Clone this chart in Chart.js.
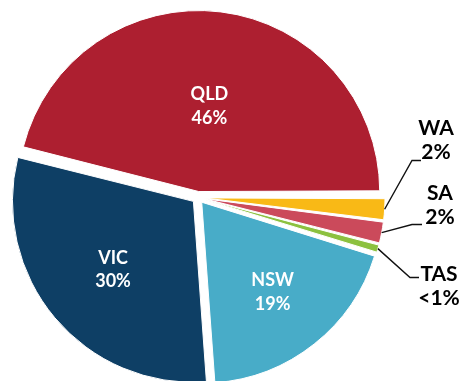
<!DOCTYPE html>
<html>
<head>
<meta charset="utf-8">
<script src="https://cdn.jsdelivr.net/npm/chart.js@4.4.1/dist/chart.umd.min.js"></script>
<style>
  html, body { margin: 0; padding: 0; background: #fff; }
  #wrap { width: 460px; height: 381px; position: relative; }
</style>
</head>
<body>
<div id="wrap"><canvas id="stateChart"></canvas></div>
<script>
// slices run clockwise from 3 o'clock
const states = ['WA', 'SA', 'TAS', 'NSW', 'VIC', 'QLD'];
const shares = [2, 2, 0.8, 19, 30, 46];
const shareText = ['2%', '2%', '<1%', '19%', '30%', '46%'];
const sliceColours = ['#F9B916', '#CB4A5B', '#8CC13F', '#48ACC8', '#0E3F65', '#AD1F30'];

// where the labels go: big slices inside (fraction of radius), small ones on a callout
const insideAt = { QLD: 0.48, VIC: 0.58, NSW: 0.63 };
const calloutAt = {
  WA:  { elbow: 214, end: 223, lineY: -37, textX: 238, textY: -58 },
  SA:  { elbow: 214, end: 224, lineY: 27,  textX: 242, textY: 7 },
  TAS: { elbow: 212, end: 221, lineY: 80,  textX: 241, textY: 88 }
};
const FONT = 'Lato, "Open Sans", sans-serif';

// Chart.js pushes the rim of exploded slices outwards; keep every slice on the same radius
const Arc = Chart.ArcElement || Chart.elements.ArcElement;
const arcDraw = Arc.prototype.draw;
Arc.prototype.draw = function (ctx) {
  const grow = (this.options.offset || 0) / 4 * (1 - Math.sin(Math.min(Math.PI, this.circumference || 0)));
  this.outerRadius -= grow;
  arcDraw.call(this, ctx);
  this.outerRadius += grow;
};

function drawPair(ctx, top, bottom, cx, cy, colour, size, gap) {
  const cap = size * 0.72;
  ctx.font = 'bold ' + size + 'px ' + FONT;
  ctx.fillStyle = colour;
  ctx.textAlign = 'center';
  ctx.textBaseline = 'alphabetic';
  ctx.fillText(top, cx, cy - gap / 2 + cap / 2);
  ctx.fillText(bottom, cx, cy + gap / 2 + cap / 2);
}

const stateLabels = {
  id: 'stateLabels',
  afterDatasetsDraw(chart) {
    const ctx = chart.ctx;
    const arcs = chart.getDatasetMeta(0).data;
    ctx.save();
    arcs.forEach((arc, i) => {
      const { x, y, startAngle, endAngle, outerRadius } =
        arc.getProps(['x', 'y', 'startAngle', 'endAngle', 'outerRadius'], true);
      const mid = (startAngle + endAngle) / 2;
      const shift = (arc.options.offset || 0) / 4;
      const cos = Math.cos(mid), sin = Math.sin(mid);
      const name = states[i];
      if (insideAt[name]) {
        const r = outerRadius * insideAt[name] + shift;
        drawPair(ctx, name, shareText[i], x + cos * r, y + sin * r, '#ffffff', 18, 23.5);
      } else {
        const c = calloutAt[name];
        const rim = outerRadius + shift;
        ctx.beginPath();
        ctx.moveTo(x + cos * rim, y + sin * rim);
        ctx.lineTo(x + c.elbow, y + c.lineY);
        ctx.lineTo(x + c.end, y + c.lineY);
        ctx.strokeStyle = '#111';
        ctx.lineWidth = 1.4;
        ctx.stroke();
        drawPair(ctx, name, shareText[i], x + c.textX, y + c.textY, '#000000', 21, 24.5);
      }
    });
    ctx.restore();
  }
};

new Chart(document.getElementById('stateChart'), {
  type: 'pie',
  data: {
    labels: states,
    datasets: [{
      data: shares,
      backgroundColor: sliceColours,
      borderColor: '#ffffff',
      borderWidth: 1,
      offset: 24,
      clip: false
    }]
  },
  options: {
    responsive: true,
    maintainAspectRatio: false,
    animation: false,
    events: [],
    rotation: 90,
    radius: 181,
    layout: { padding: { left: 0, right: 64, top: 14, bottom: 0 } },
    plugins: {
      legend: { display: false },
      tooltip: { enabled: false }
    }
  },
  plugins: [stateLabels]
});
</script>
</body>
</html>
